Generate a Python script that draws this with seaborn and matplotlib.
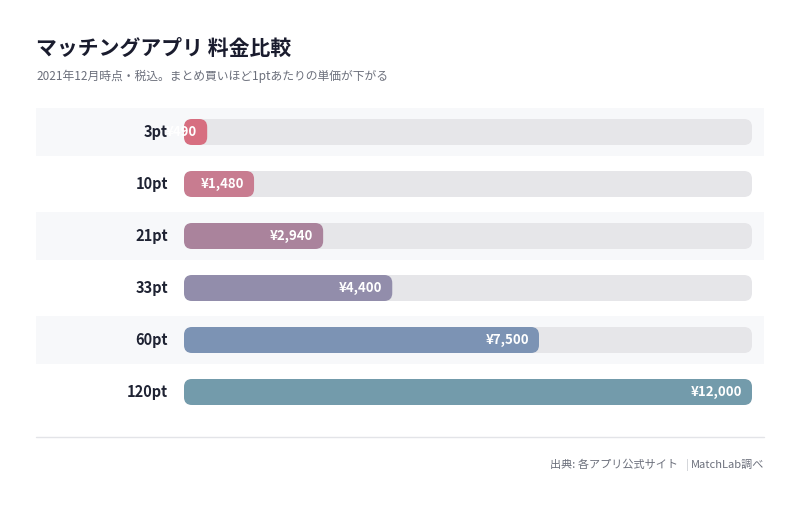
import matplotlib
matplotlib.use("Agg")
import matplotlib.pyplot as plt
import seaborn as sns
import pandas as pd
from matplotlib.patches import FancyBboxPatch, Rectangle
import matplotlib.transforms as mtrans

categories = ["3pt", "10pt", "21pt", "33pt", "60pt", "120pt"]
prices = [490, 1480, 2940, 4400, 7500, 12000]
labels = ["¥490", "¥1,480", "¥2,940", "¥4,400", "¥7,500", "¥12,000"]
colors = ["#e85d75", "#d4708a", "#b07c9e", "#8f88b0", "#7392bd", "#6a9fb4"]

sns.set_theme(style="white")
plt.rcParams['font.family'] = ['Noto Sans CJK JP', 'DejaVu Sans']

W, H = 800, 505
fig = plt.figure(figsize=(8, 5.05), dpi=100)
ax = fig.add_axes([184/W, 1-418/H, 568/W, 312/H])
df = pd.DataFrame({"cat": categories, "price": prices})
maxv = max(prices)

# background track
sns.barplot(data=df.assign(t=maxv), x="t", y="cat", color="#e5e6ea", width=0.5, ax=ax)
n_track = len(ax.patches)
sns.barplot(data=df, x="price", y="cat", hue="cat", palette=colors, width=0.5, legend=False, ax=ax)
ax.set_xlim(0, maxv)
ax.set_ylim(5.5, -0.5)
for s in ax.spines.values():
    s.set_visible(False)
ax.set_xlabel(""); ax.set_ylabel("")
ax.set_xticks([]); ax.set_yticks([])

r = 8 * maxv / 568
asp = (8/52) / r
for p in list(ax.patches):
    x, y = p.get_x(), p.get_y()
    w, h = p.get_width(), p.get_height()
    fb = FancyBboxPatch((x, y), w, h, boxstyle=f"round,pad=0,rounding_size={r}",
                        mutation_aspect=asp, fc=p.get_facecolor(), ec="none", zorder=3)
    p.set_visible(False)
    ax.add_patch(fb)

# alternating bands
bt = mtrans.blended_transform_factory(ax.transAxes, ax.transData)
for i in range(0, len(categories), 2):
    ax.add_patch(Rectangle((-148/568, i-24/52), 728/568, 48/52, transform=bt,
                           fc="#f7f8fa", ec="none", zorder=0, clip_on=False))
    
for i, (c, v, l) in enumerate(zip(categories, prices, labels)):
    ax.text(-16/568, i, c, transform=bt, ha="right", va="center", fontsize=10.5,
            fontweight="bold", color="#1f2333")
    ax.text(v - 10*maxv/568, i, l, ha="right", va="center", fontsize=9.5,
            fontweight="bold", color="white", zorder=5)

fig.text(36/W, 1-48/H, "マッチングアプリ 料金比較", fontsize=15, fontweight="bold",
         color="#1a1c2e", va="center")
fig.text(36/W, 1-76/H, "2021年12月時点・税込。まとめ買いほど1ptあたりの単価が下がる",
         fontsize=8.5, color="#6b6f7b", va="center")
fig.add_artist(plt.Line2D([36/W, 764/W], [1-437/H, 1-437/H], color="#e3e4e8", lw=1))
fig.text(764/W, 1-465/H, "MatchLab調べ", fontsize=8, color="#6b6f7b", ha="right", va="center")
fig.text(687/W, 1-465/H, "|", fontsize=8, color="#c8cad0", ha="center", va="center")
fig.text(678/W, 1-465/H, "出典: 各アプリ公式サイト", fontsize=8, color="#6b6f7b", ha="right", va="center")
fig.savefig("out.png", dpi=100, facecolor="white")
